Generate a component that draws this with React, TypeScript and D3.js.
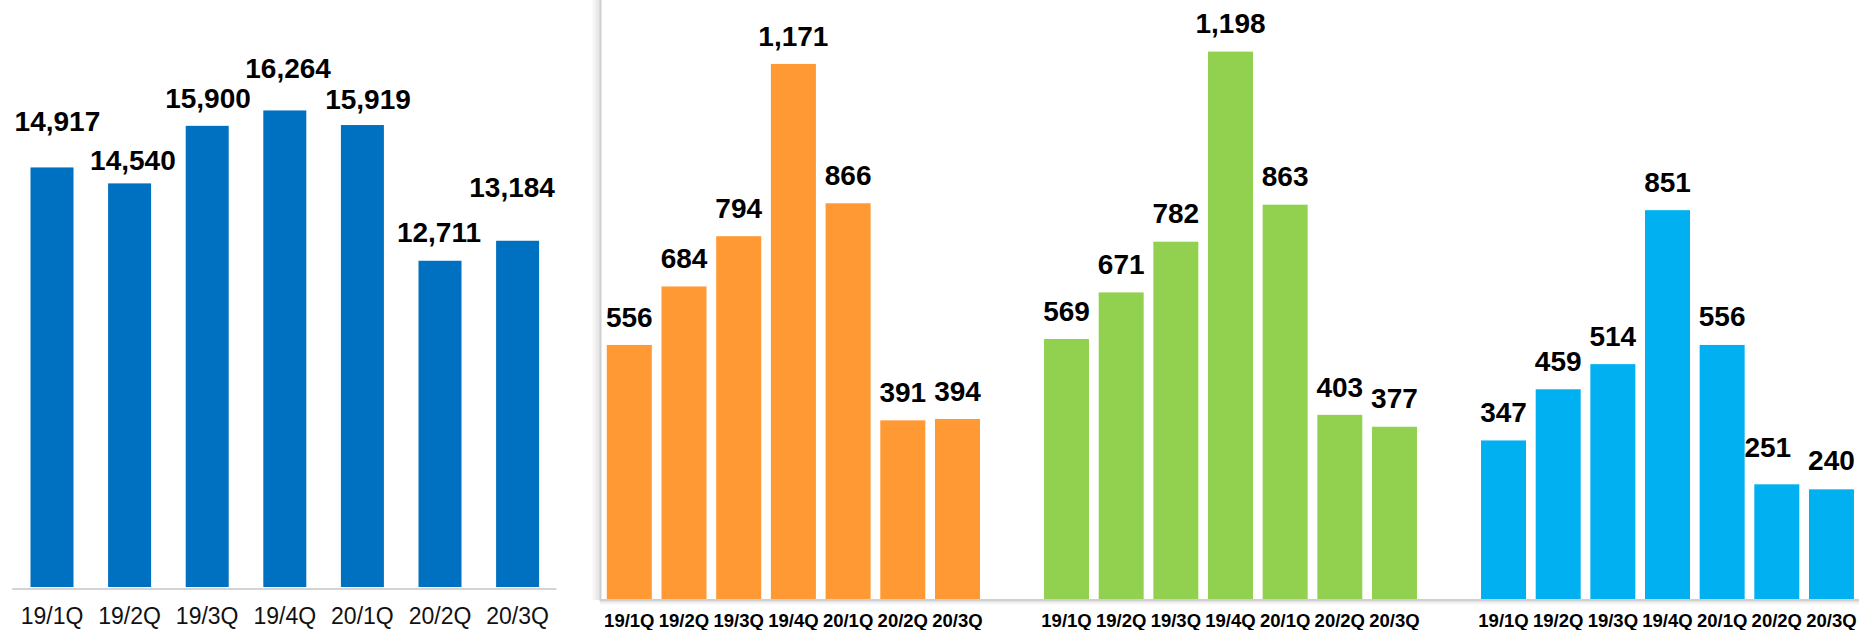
import React from "react";
import * as d3 from "d3";

const quarters = ["19/1Q", "19/2Q", "19/3Q", "19/4Q", "20/1Q", "20/2Q", "20/3Q"];
const totalValues = [14917, 14540, 15900, 16264, 15919, 12711, 13184];
const orangeValues = [556, 684, 794, 1171, 866, 391, 394];
const greenValues = [569, 671, 782, 1198, 863, 403, 377];
const blueValues = [347, 459, 514, 851, 556, 251, 240];

// manual label nudges (px) as in the source slide
const totalLabelLift = [36.6, 13.3, 18.3, 32.2, 15.7, 18.9, 43.5];
const totalLabelDx = [5.4, 3.3, 0.8, 3.3, 5.6, -1, -5.5];
const blueLabelLift = [18.1, 18.5, 18.5, 18.1, 18.5, 27, 19.3];
const blueLabelDx = [0, 0, 0, 0, 0, -9, 0];

const W = 1859;
const H = 630;
const FONT = "'Liberation Sans', Arial, Helvetica, sans-serif";
const fmt = d3.format(",");

type SmallPanel = {
  values: number[];
  color: string;
  range: [number, number];
  lift?: number[];
  dx?: number[];
};

export default function App() {
  // Panel 1
  const x1 = d3.scaleBand<string>().domain(quarters).range([13.2, 556.4]).paddingInner(0.446).paddingOuter(0.223);
  const y1 = d3.scaleLinear().domain([5000, 18000]).range([587, 37]);

  // Panels 2-4 share a zero-based scale
  const ySmall = d3.scaleLinear().domain([0, 1300]).range([599, 5]);
  const panels: SmallPanel[] = [
    { values: orangeValues, color: "#FF9933", range: [601.95, 984.85] },
    { values: greenValues, color: "#92D050", range: [1039.2, 1421.8] },
    { values: blueValues, color: "#00B0F0", range: [1476.2, 1858.8], lift: blueLabelLift, dx: blueLabelDx },
  ];

  return (
    <svg
      width={W}
      height={H}
      viewBox={`0 0 ${W} ${H}`}
      style={{ position: "absolute", left: 0, top: 0, display: "block", background: "#fff" }}
    >
      <defs>
        <linearGradient id="shadowV" x1="0" x2="1" y1="0" y2="0">
          <stop offset="0" stopColor="#000" stopOpacity="0" />
          <stop offset="1" stopColor="#000" stopOpacity="0.12" />
        </linearGradient>
        <linearGradient id="shadowH" x1="0" x2="0" y1="0" y2="1">
          <stop offset="0" stopColor="#000" stopOpacity="0.12" />
          <stop offset="1" stopColor="#000" stopOpacity="0" />
        </linearGradient>
      </defs>

      {/* Panel 1 */}
      <g>
        {quarters.map((q, i) => (
          <rect
            key={q}
            x={x1(q)}
            y={y1(totalValues[i])}
            width={x1.bandwidth()}
            height={y1(5000) - y1(totalValues[i])}
            fill="#0070C0"
          />
        ))}
        <line x1={x1.range()[0] - 1} x2={x1.range()[1]} y1={589} y2={589} stroke="#d4d4d4" strokeWidth={2} />
        {quarters.map((q, i) => (
          <text
            key={"v" + q}
            x={(x1(q) as number) + x1.bandwidth() / 2 + totalLabelDx[i]}
            y={y1(totalValues[i]) - totalLabelLift[i]}
            textAnchor="middle"
            fontFamily={FONT}
            fontWeight="bold"
            fontSize={28}
            fill="#000"
          >
            {fmt(totalValues[i])}
          </text>
        ))}
        {quarters.map((q) => (
          <text
            key={"t" + q}
            x={(x1(q) as number) + x1.bandwidth() / 2}
            y={624}
            textAnchor="middle"
            fontFamily={FONT}
            fontSize={23}
            fill="#111"
          >
            {q}
          </text>
        ))}
      </g>

      {/* Frame of right area */}
      <rect x={591} y={0} width={9} height={600} fill="url(#shadowV)" />
      <rect x={600} y={601} width={W - 600} height={4} fill="url(#shadowH)" />
      <line x1={600.5} x2={600.5} y1={0} y2={601} stroke="#cfcfcf" strokeWidth={2} />
      <line x1={600} x2={W} y1={600} y2={600} stroke="#cfcfcf" strokeWidth={2} />

      {panels.map((p, pi) => {
        const x = d3.scaleBand<string>().domain(quarters).range(p.range).paddingInner(0.177).paddingOuter(0.0885);
        return (
          <g key={pi}>
            {quarters.map((q, i) => (
              <rect
                key={q}
                x={x(q)}
                y={ySmall(p.values[i])}
                width={x.bandwidth()}
                height={ySmall(0) - ySmall(p.values[i])}
                fill={p.color}
              />
            ))}
            {quarters.map((q, i) => (
              <text
                key={"v" + q}
                x={(x(q) as number) + x.bandwidth() / 2 + (p.dx ? p.dx[i] : 0)}
                y={ySmall(p.values[i]) - (p.lift ? p.lift[i] : 18.3)}
                textAnchor="middle"
                fontFamily={FONT}
                fontWeight="bold"
                fontSize={28}
                fill="#000"
              >
                {fmt(p.values[i])}
              </text>
            ))}
            {quarters.map((q) => (
              <text
                key={"t" + q}
                x={(x(q) as number) + x.bandwidth() / 2}
                y={627}
                textAnchor="middle"
                fontFamily={FONT}
                fontWeight="bold"
                fontSize={18.5}
                fill="#000"
              >
                {q}
              </text>
            ))}
          </g>
        );
      })}
    </svg>
  );
}
